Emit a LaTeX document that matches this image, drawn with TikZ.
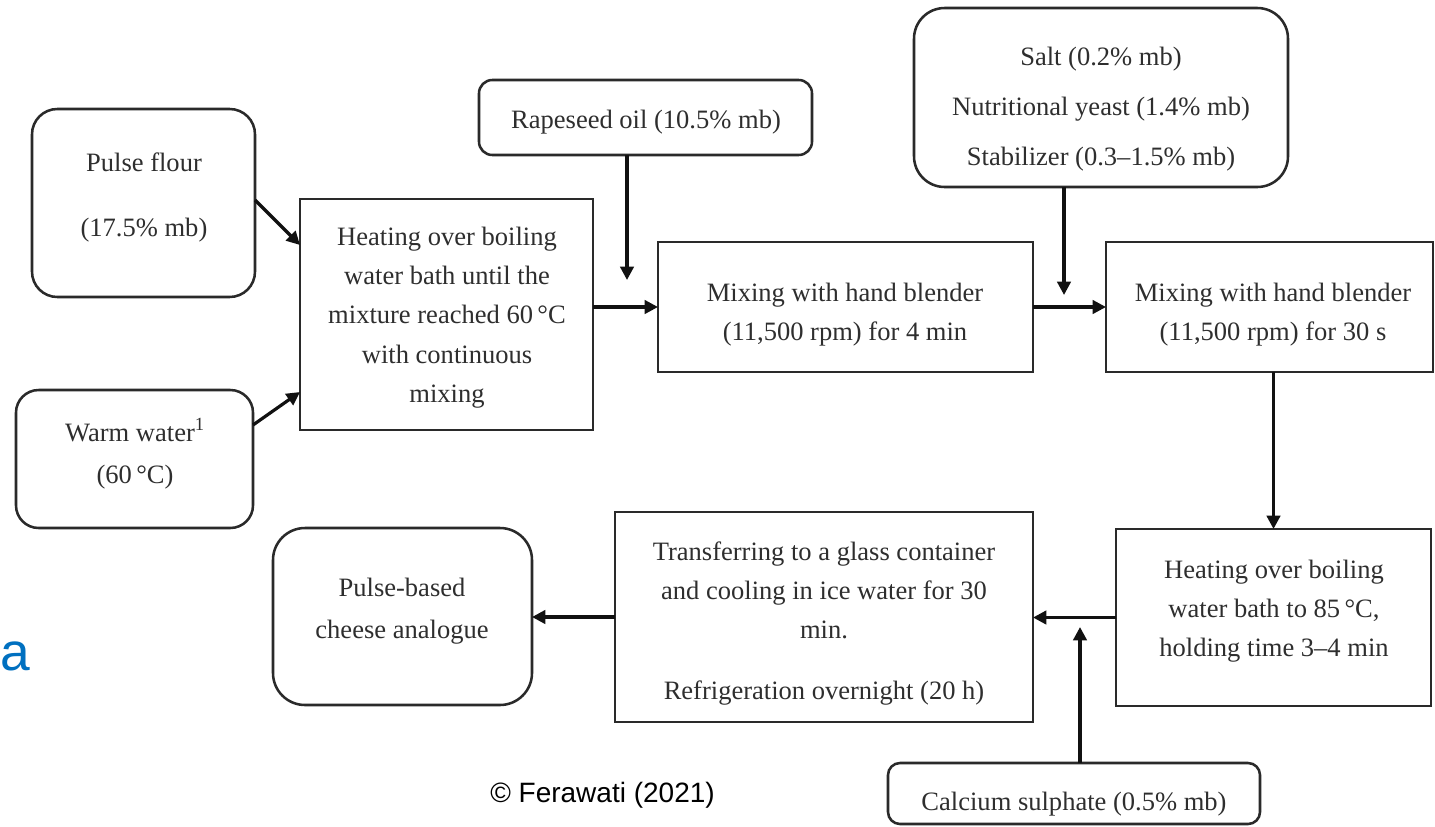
\documentclass[tikz,border=0pt]{standalone}
\usepackage{fontspec}
\setmainfont{Liberation Serif}
\newfontfamily\arialf{Liberation Sans}
\usetikzlibrary{arrows.meta,calc}
\definecolor{txtc}{HTML}{2E2E2E}
\definecolor{boxc}{HTML}{2A2A2A}
\definecolor{arrc}{HTML}{111111}
\definecolor{bluea}{HTML}{0070C0}
\newcommand\mytxt[2]{\parbox[t]{12cm}{\centering\fontsize{19.9pt}{#1}\selectfont #2}}
\begin{document}
\begin{tikzpicture}[x=0.75pt,y=-0.75pt,
  box/.style={draw=boxc, line width=1.9pt, inner sep=0pt, outer sep=0pt, fill=white},
  rbox/.style={box, rounded corners=#1},
  sz/.style 2 args={minimum width=#1*0.75pt, minimum height=#2*0.75pt},
  txt/.style={anchor=base, inner sep=0pt, text=txtc},
  arr/.style={draw=arrc, line width=2.4pt, -{Triangle[length=10pt,width=10pt]}}]
\useasboundingbox (0,0) rectangle (1435,826);
\fill[white] (0,0) rectangle (1435,826);

% boxes
\node[rbox=19pt, sz={223}{188}] (pf) at (143.5,203) {};
\node[rbox=17pt, sz={237}{138}] (ww) at (134.5,459) {};
\node[box, sz={293}{231}] (h1) at (446.5,314.5) {};
\node[rbox=10pt, sz={333}{75}] (rs) at (645.5,117.5) {};
\node[box, sz={375}{130}] (m1) at (845.5,307) {};
\node[rbox=23pt, sz={374}{179}] (salt) at (1101,97.5) {};
\node[box, sz={327}{130}] (m2) at (1269.5,307) {};
\node[box, sz={315}{177}] (h2) at (1273.5,617.5) {};
\node[box, sz={418}{210}] (tr) at (824,617) {};
\node[rbox=24pt, sz={259}{177}] (ch) at (402.5,616.5) {};
\node[rbox=9pt, sz={372}{61}] (ca) at (1074,793.5) {};

% texts
\node[txt] (pft) at (144,171) {\mytxt{48.75pt}{Pulse flour\\(17.5\% mb)}};
\node[txt] (wwt) at (135,441) {\mytxt{31.5pt}{Warm water\textsuperscript{1}\\(60\,°C)}};
\node[txt] (h1t) at (447,245) {\mytxt{29.6pt}{Heating over boiling\\water bath until the\\mixture reached 60\,°C\\with continuous\\mixing}};
\node[txt] (rst) at (646,128) {\mytxt{29.6pt}{Rapeseed oil (10.5\% mb)}};
\node[txt] (m1t) at (845,301) {\mytxt{29.3pt}{Mixing with hand blender\\(11,500 rpm) for 4 min}};
\node[txt] (saltt) at (1101,65) {\mytxt{37.5pt}{Salt (0.2\% mb)\\Nutritional yeast (1.4\% mb)\\Stabilizer (0.3–1.5\% mb)}};
\node[txt] (m2t) at (1273,301) {\mytxt{29.3pt}{Mixing with hand blender\\(11,500 rpm) for 30 s}};
\node[txt] (h2t) at (1274,578) {\mytxt{29.3pt}{Heating over boiling\\water bath to 85\,°C,\\holding time 3–4 min}};
\node[txt] (trt) at (824,560) {\mytxt{29.3pt}{Transferring to a glass container\\and cooling in ice water for 30\\min.\\[17pt]Refrigeration overnight (20 h)}};
\node[txt] (cht) at (402,596) {\mytxt{31.5pt}{Pulse-based\\cheese analogue}};
\node[txt] (cat) at (1074,810) {\mytxt{29.3pt}{Calcium sulphate (0.5\% mb)}};

% free arrow ends
\coordinate (j1) at (627,280);
\coordinate (j2) at (1064,295);
\coordinate (j4) at (1080,627);

% connectors
\draw[arr] ($(pf.east)+(0,-3)$) -- ($(h1.west)+(0,-69.5)$);
\draw[arr] ($(ww.east)+(0,-34)$) -- ($(h1.west)+(0,77.5)$);
\draw[arr] (rs.south -| j1) -- (j1);
\draw[arr] (h1.east |- m1.west) -- (m1.west);
\draw[arr] (salt.south -| j2) -- (j2);
\draw[arr] (m1.east) -- (m2.west);
\draw[arr] (m2.south -| h2.north) -- (h2.north);
\draw[arr] (h2.west) -- (h2.west -| tr.east);
\draw[arr] (ca.north -| j4) -- (j4);
\draw[arr] (tr.west) -- (tr.west -| ch.east);

% labels
\node[anchor=base west, inner sep=0pt, text=bluea, font=\arialf\fontsize{40pt}{40pt}\selectfont] (lbla) at (0,670) {a};
\node[anchor=base west, inner sep=0pt, text=black, font=\arialf\fontsize{21pt}{21pt}\selectfont] (copy) at (490,802) {© Ferawati (2021)};
\end{tikzpicture}
\end{document}
